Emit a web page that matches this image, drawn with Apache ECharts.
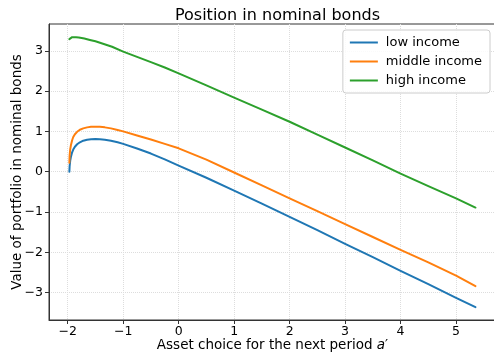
<!DOCTYPE html>
<html><head><meta charset="utf-8">
<script src="https://cdn.jsdelivr.net/npm/echarts@6/dist/echarts.min.js"></script>
<style>html,body{margin:0;padding:0;background:#fff}#c{width:494px;height:353px}</style>
</head><body><div id="c"></div>
<script>
const seriesNames = ['low income', 'middle income', 'high income'];
const lowX = [-1.97,-1.965,-1.955,-1.94,-1.92,-1.9,-1.87,-1.83,-1.78,-1.72,-1.65,-1.58,-1.5,-1.42,-1.33,-1.22,-1.1,-1.0,-0.75,-0.5,-0.25,0,0.5,1,1.5,2,2.5,3,3.5,4,4.5,5,5.35];
const lowY = [0.0,0.14,0.27,0.38,0.48,0.55,0.62,0.68,0.73,0.77,0.795,0.808,0.812,0.806,0.792,0.767,0.73,0.69,0.575,0.45,0.305,0.15,-0.15,-0.47,-0.79,-1.12,-1.45,-1.79,-2.12,-2.46,-2.79,-3.13,-3.36];
const midX = [-1.97,-1.965,-1.955,-1.94,-1.92,-1.9,-1.87,-1.83,-1.78,-1.72,-1.65,-1.58,-1.5,-1.42,-1.33,-1.22,-1.1,-1.0,-0.75,-0.5,-0.25,0,0.5,1,1.5,2,2.5,3,3.5,4,4.5,5,5.35];
const midY = [0.22,0.4,0.55,0.67,0.78,0.86,0.93,0.99,1.04,1.075,1.1,1.113,1.118,1.113,1.1,1.075,1.035,1.0,0.9,0.8,0.69,0.58,0.3,-0.02,-0.34,-0.66,-0.98,-1.3,-1.62,-1.94,-2.25,-2.58,-2.84];
const highX = [-1.97,-1.955,-1.94,-1.92,-1.89,-1.85,-1.8,-1.7,-1.6,-1.5,-1.35,-1.2,-1.0,-0.75,-0.5,-0.25,0,0.5,1,1.5,2,2.5,3,3.5,4,4.5,5,5.35];
const highY = [3.29,3.315,3.33,3.338,3.34,3.337,3.33,3.305,3.27,3.235,3.17,3.1,2.98,2.85,2.72,2.585,2.44,2.14,1.84,1.54,1.24,0.92,0.6,0.28,-0.05,-0.36,-0.66,-0.89];
const xTicks = [-2,-1,0,1,2,3,4,5];
const yTicks = [-3,-2,-1,0,1,2,3];
const colors = ['#1f77b4','#ff7f0e','#2ca02c'];

const zip = (xs, ys) => xs.map((x, i) => [x, ys[i]]);
const fmt = v => (v < 0 ? '\u2212' + Math.abs(v) : String(v));
const font = 'DejaVu Sans';

const chart = echarts.init(document.getElementById('c'), null, {renderer: 'canvas'});
const mkSeries = (i, xs, ys) => ({
  name: seriesNames[i], type: 'line', data: zip(xs, ys), smooth: false,
  showSymbol: false, lineStyle: {width: 2, color: colors[i], join: 'round', cap: 'round'}, itemStyle: {color: colors[i]}
});
chart.setOption({
  animation: false,
  backgroundColor: '#fff',
  title: {
    text: 'Position in nominal bonds', left: 272.5, textAlign: 'center', top: 3,
    textStyle: {fontFamily: font, fontSize: 16, fontWeight: 'normal', color: '#000'}
  },
  grid: {left: 49, right: -2, top: 24, bottom: 33, show: true, borderColor: '#333', borderWidth: 1,
         containLabel: false, outerBoundsMode: 'none'},
  legend: {
    orient: 'vertical', right: 4, top: 30,
    data: seriesNames,
    icon: 'rect', itemWidth: 28, itemHeight: 2, itemGap: 6,
    backgroundColor: 'rgba(255,255,255,0.85)', borderColor: '#ccc', borderWidth: 1, borderRadius: 3,
    padding: [6, 8, 6, 7],
    textStyle: {fontFamily: font, fontSize: 13, color: '#000', padding: [0, 0, 0, 3]}
  },
  xAxis: {
    type: 'value', min: -2.337, max: 5.72,
    name: 'Asset choice for the next period {i|a}\u2032',
    nameLocation: 'middle', nameGap: 18, nameMoveOverlap: false,
    nameTextStyle: {fontFamily: font, fontSize: 13.5, color: '#000', rich: {i: {fontFamily: font, fontStyle: 'italic', fontSize: 13.5, color: '#000'}}},
    axisLine: {show: true, onZero: false, lineStyle: {color: '#333', width: 1}},
    axisTick: {show: true, length: 4, lineStyle: {color: '#333'}, customValues: xTicks},
    axisLabel: {customValues: xTicks, formatter: fmt, fontFamily: font, fontSize: 12.5, color: '#000', margin: 5},
    splitLine: {show: true, lineStyle: {color: '#ddd', type: 'dotted', width: 1}}
  },
  yAxis: {
    type: 'value', min: -3.68, max: 3.665,
    name: 'Value of portfolio in nominal bonds',
    nameLocation: 'middle', nameGap: 25, nameRotate: 90, nameMoveOverlap: false,
    nameTextStyle: {fontFamily: font, fontSize: 13.5, color: '#000'},
    axisLine: {show: true, onZero: false, lineStyle: {color: '#333', width: 1}},
    axisTick: {show: true, length: 4, lineStyle: {color: '#333'}, customValues: yTicks},
    axisLabel: {customValues: yTicks, formatter: fmt, fontFamily: font, fontSize: 12.5, color: '#000', margin: 6},
    splitLine: {show: true, lineStyle: {color: '#ddd', type: 'dotted', width: 1}}
  },
  series: [mkSeries(0, lowX, lowY), mkSeries(1, midX, midY), mkSeries(2, highX, highY)]
});
</script></body></html>
